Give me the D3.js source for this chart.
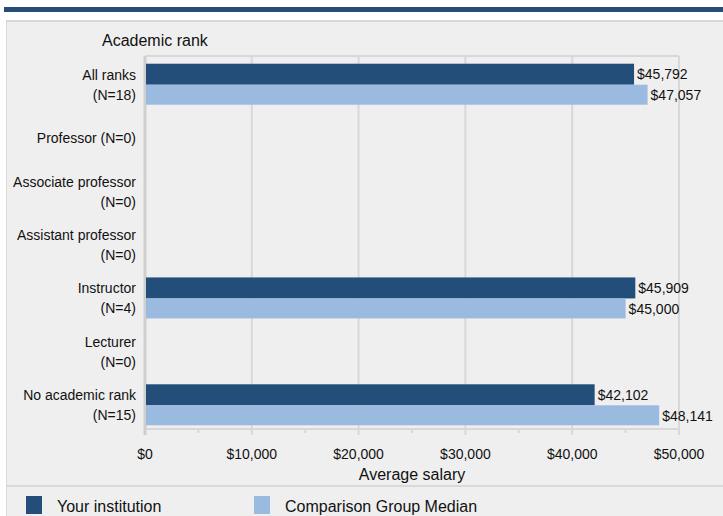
<!DOCTYPE html>
<html><head><meta charset="utf-8">
<script src="https://cdn.jsdelivr.net/npm/d3@7"></script>
<style>body{margin:0;background:#fff}svg{display:block;font-family:"Liberation Sans",Arial,sans-serif}</style>
</head><body><svg id="c" width="723" height="516"></svg>
<script>
const categories = [["All ranks","(N=18)"],["Professor (N=0)"],["Associate professor","(N=0)"],["Assistant professor","(N=0)"],["Instructor","(N=4)"],["Lecturer","(N=0)"],["No academic rank","(N=15)"]];
const yourInstitution = [45792,null,null,null,45909,null,42102];
const comparisonMedian = [47057,null,null,null,45000,null,48141];
const xTicks = [0,10000,20000,30000,40000,50000];
const minorTicks = [5000,15000,25000,35000,45000];
const seriesNames = ["Your institution","Comparison Group Median"];
const colors = ["#234e7a","#9bbadf"];

const svg = d3.select("#c");
// top bar
svg.append("rect").attr("x",4).attr("y",7).attr("width",719).attr("height",5).attr("fill","#264d78");
// panel
svg.append("rect").attr("x",6).attr("y",20).attr("width",717).attr("height",496).attr("fill","#efefef");
svg.append("line").attr("x1",6).attr("x2",723).attr("y1",21).attr("y2",21).attr("stroke","#d9d9d9").attr("stroke-width",2);
svg.append("line").attr("x1",6.5).attr("x2",6.5).attr("y1",20).attr("y2",516).attr("stroke","#d9d9d9").attr("stroke-width",1);
svg.append("line").attr("x1",6).attr("x2",723).attr("y1",486).attr("y2",486).attr("stroke","#d9d9d9").attr("stroke-width",2);

const x = d3.scaleLinear().domain([0,50000]).range([145,679]);
const y = d3.scaleBand().domain(d3.range(categories.length)).range([58,432]);
const plotTop = 56, plotBottom = 429;

// grid
const g = svg.append("g");
g.selectAll("line.grid").data(xTicks).join("line")
  .attr("x1",d=>x(d)).attr("x2",d=>x(d)).attr("y1",plotTop).attr("y2",plotBottom+6)
  .attr("stroke","#d8d8d8").attr("stroke-width",2);
g.append("line").attr("x1",x(0)).attr("x2",x(50000)).attr("y1",plotTop).attr("y2",plotTop).attr("stroke","#d8d8d8").attr("stroke-width",2);
g.append("line").attr("x1",x(0)-1).attr("x2",x(50000)+1).attr("y1",plotBottom).attr("y2",plotBottom).attr("stroke","#d8d8d8").attr("stroke-width",2);
g.selectAll("line.minor").data(minorTicks).join("line")
  .attr("x1",d=>x(d)).attr("x2",d=>x(d)).attr("y1",plotBottom).attr("y2",plotBottom+4)
  .attr("stroke","#d8d8d8").attr("stroke-width",2);
g.append("line").attr("x1",x(0)).attr("x2",x(0)).attr("y1",plotTop).attr("y2",plotBottom+6).attr("stroke","#cfcfcf").attr("stroke-width",3);

// x tick labels
svg.selectAll("text.xt").data(xTicks).join("text")
  .attr("x",d=>x(d)).attr("y",459).attr("text-anchor","middle")
  .attr("font-size",14).attr("fill","#111")
  .text(d=>d3.format("$,")(d));
svg.append("text").attr("x",412).attr("y",480).attr("text-anchor","middle").attr("font-size",16).attr("fill","#111").text("Average salary");
svg.append("text").attr("x",102).attr("y",46).attr("font-size",16).attr("fill","#111").text("Academic rank");

// y labels
categories.forEach((lines,i)=>{
  const cy = y(i)+y.bandwidth()/2;
  const n = lines.length;
  lines.forEach((t,j)=>{
    svg.append("text").attr("x",136).attr("y",cy + (j-(n-1)/2)*20 + 5)
      .attr("text-anchor","end").attr("font-size",14).attr("fill","#111").text(t);
  });
});

// bars
const bh = 21;
[yourInstitution, comparisonMedian].forEach((vals,s)=>{
  vals.forEach((v,i)=>{
    if(v==null) return;
    const cy = y(i)+y.bandwidth()/2;
    const yy = s===0 ? cy-bh : cy;
    svg.append("rect").attr("x",x(0)+1).attr("y",yy).attr("width",x(v)-x(0)-1).attr("height",s===0?bh:20).attr("fill",colors[s]);
    svg.append("text").attr("x",x(v)+3).attr("y",yy+bh/2+5).attr("font-size",14).attr("fill","#111").text(d3.format("$,")(v));
  });
});

// legend
const lx = [26,254];
seriesNames.forEach((n,i)=>{
  svg.append("rect").attr("x",lx[i]).attr("y",496).attr("width",16).attr("height",18).attr("fill",colors[i]);
  svg.append("text").attr("x",lx[i]+31).attr("y",512).attr("font-size",16).attr("fill","#111").text(n);
});
</script></body></html>
